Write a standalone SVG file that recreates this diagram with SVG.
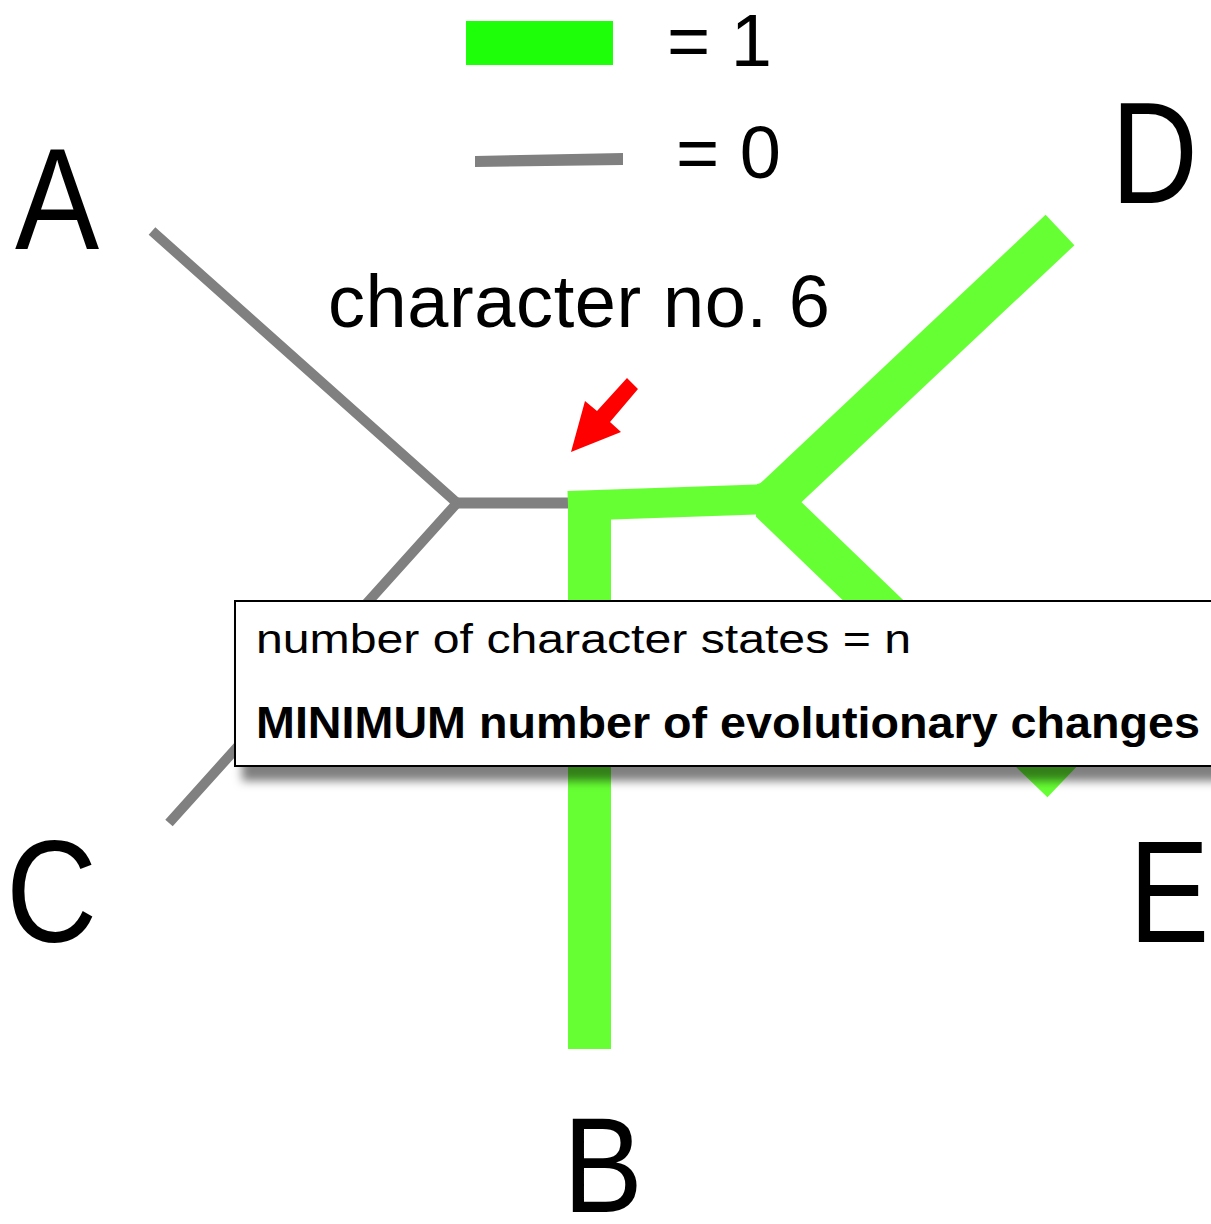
<svg xmlns="http://www.w3.org/2000/svg" width="1211" height="1224" viewBox="0 0 1211 1224">
<style>
.gray{stroke:#808080;stroke-width:10;fill:none;stroke-linejoin:miter}
.green{stroke:#66ff33;fill:none;stroke-linecap:butt}
.big{font-family:"Liberation Sans",Arial,sans-serif;font-size:145px;fill:#000}
.leg{font-family:"Liberation Sans",Arial,sans-serif;font-size:74px;fill:#000}
.box{font-family:"Liberation Sans",Arial,sans-serif;font-size:41px;fill:#000}
</style>
<defs>
<filter id="sh" x="-5%" y="-20%" width="115%" height="160%">
<feDropShadow dx="8" dy="14" stdDeviation="5" flood-color="#000" flood-opacity="0.5"/>
</filter>
</defs>
<rect width="1211" height="1224" fill="#fff"/>
<g id="legend">
<rect x="466" y="21" width="147" height="44" fill="#1eff0a"/>
<text class="leg" x="667" y="66">= 1</text>
<polygon points="475,156 623,153 623,165 475,167" fill="#808080"/>
<text class="leg" x="676" y="178">= 0</text>
</g>
<g id="connectors">
<polyline class="gray" points="152,231 457,503 169,823"/>
<line class="gray" x1="457" y1="503" x2="569" y2="503" style="stroke-width:11"/>
<rect x="568" y="491" width="43" height="558" fill="#66ff33"/>
<line class="green" x1="568" y1="506" x2="772" y2="499" stroke-width="30"/>
<line class="green" x1="771" y1="502" x2="1060" y2="230" stroke-width="42"/>
<line class="green" x1="771" y1="502" x2="1062" y2="782" stroke-width="42"/>
<polygon points="757,484 772,480 788,488 788,516 756,517" fill="#66ff33"/>
</g>
<g id="title">
<text class="leg" x="328" y="327" textLength="502" lengthAdjust="spacing">character no. 6</text>
</g>
<g id="arrow">
<polygon points="627,378 638,389 610,422 621,432 571,452 585,401 597,411" fill="#ff0000"/>
</g>
<g id="node-A"><text class="big" transform="translate(15,249) scale(0.87,1)">A</text></g>
<g id="node-D"><text class="big" transform="translate(1111,203) scale(0.83,1)">D</text></g>
<g id="node-C"><text class="big" transform="translate(6,942) scale(0.87,1)">C</text></g>
<g id="node-E"><text class="big" transform="translate(1129,942) scale(0.83,1)">E</text></g>
<g id="node-B"><text class="big" style="font-size:136px" transform="translate(563,1212) scale(0.88,1)">B</text></g>
<g id="infobox">
<rect x="235" y="601" width="990" height="165" fill="#fff" stroke="#000" stroke-width="2" filter="url(#sh)"/>
<text class="box" x="256" y="653" textLength="655" lengthAdjust="spacingAndGlyphs">number of character states = n</text>
<text class="box" x="256" y="738" font-weight="bold" style="font-size:44px" textLength="944" lengthAdjust="spacingAndGlyphs">MINIMUM number of evolutionary changes</text>
</g>
</svg>
